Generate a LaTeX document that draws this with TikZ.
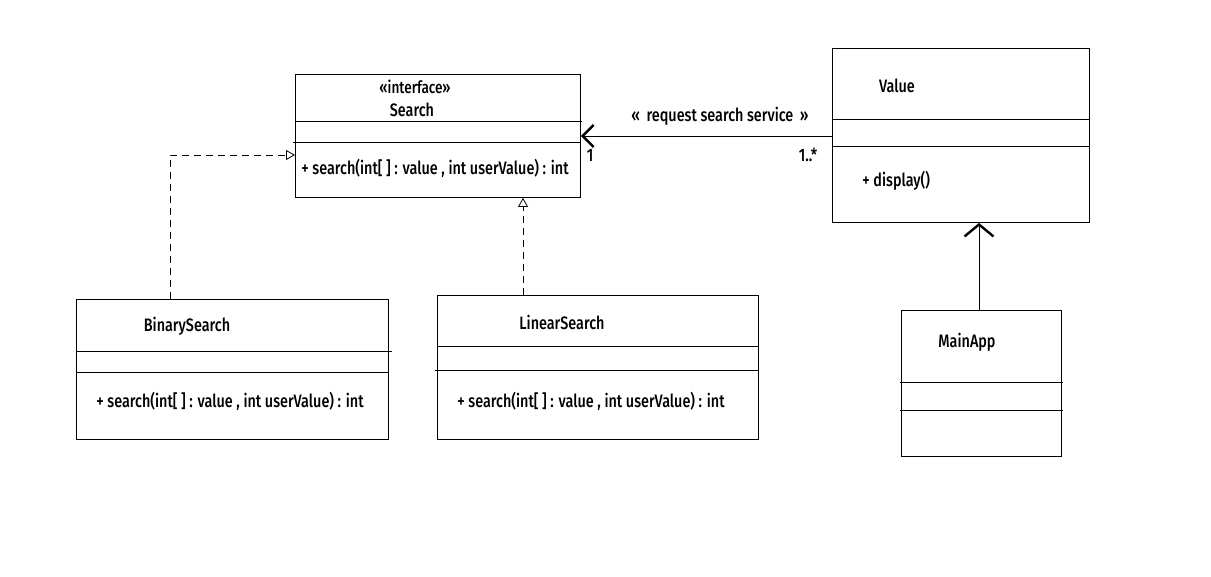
\documentclass[tikz,border=0pt]{standalone}
\usepackage{fontspec}
\setmainfont{Fira Sans}[FakeStretch=0.8, UprightFont=* Medium]
\usetikzlibrary{arrows.meta}
\begin{document}
\begin{tikzpicture}[x=1pt,y=-1pt,
  line width=0.9pt,
  lbl/.style={inner sep=0pt, font=\fontsize{18}{20}\selectfont},
  realize/.style={dashed, line width=0.8pt, dash pattern=on 7pt off 5pt, -{Triangle[open, length=9pt, width=10pt, line width=0.8pt]}},
  assoc/.style={-{Straight Barb[length=11pt, width=22pt, line width=2.4pt]}},
  cls/.style={draw, inner sep=0pt, anchor=north west}
]
\useasboundingbox (0,0) rectangle (1211,577);

% Search interface
\node[cls, minimum width=285pt, minimum height=123pt] (search) at (295,74) {};
\draw (search.west |- 0,121) -- ++(287,0);
\draw (293,142) -- (search.east |- 0,142);
\node[lbl, font=\fontsize{17}{19}\selectfont] (sst) at (415,87) {«interface»};
\node[lbl] (sname) at (412,110) {Search};
\node[lbl, anchor=west] (smeth) at (301,168) {+ search(int[ ] : value , int userValue) : int};

% Value class
\node[cls, minimum width=257pt, minimum height=174pt] (value) at (832,48) {};
\draw (value.west |- 0,119) -- (value.east |- 0,119);
\draw (value.west |- 0,146) -- (value.east |- 0,146);
\node[lbl] (vname) at (897,86) {Value};
\node[lbl, anchor=west] (vmeth) at (862,181) {+ display()};

% BinarySearch class
\node[cls, minimum width=312pt, minimum height=140pt] (binary) at (76,299) {};
\draw (binary.west |- 0,351) -- (392,351);
\draw (binary.west |- 0,372) -- (binary.east |- 0,372);
\node[lbl] (bname) at (187,326) {BinarySearch};
\node[lbl, anchor=west] (bmeth) at (96,401) {+ search(int[ ] : value , int userValue) : int};

% LinearSearch class
\node[cls, minimum width=321pt, minimum height=144pt] (linear) at (437,295) {};
\draw (linear.west |- 0,346) -- (linear.east |- 0,346);
\draw (435,370) -- (linear.east |- 0,370);
\node[lbl] (lname) at (562,322) {LinearSearch};
\node[lbl, anchor=west] (lmeth) at (457,401) {+ search(int[ ] : value , int userValue) : int};

% MainApp class
\node[cls, minimum width=160pt, minimum height=146pt] (mainapp) at (901,310) {};
\draw (900,382) -- (1063,382);
\draw (900,410) -- (1063,410);
\node[lbl] (mname) at (967,342) {MainApp};

% Association Value -> Search
\draw[assoc] (value.west |- 0,136) -- (search.east |- 0,136);
\node[lbl] (alabel) at (720,116) {«\, request search service\, »};
\node[lbl] (m1) at (590,155) {1};
\node[lbl] (m2) at (808,155) {1..*};

% Realizations
\coordinate (bturn) at (170,155);
\draw[realize] (binary.north -| bturn) -- (bturn) -- (search.west |- bturn);
\draw[realize] (linear.north -| 523,0) -- (search.south -| 523,0);

% MainApp -> Value
\draw[-{Straight Barb[length=12pt, width=29pt, line width=2.4pt]}] (mainapp.north -| 979,0) -- (value.south -| 979,0);
\end{tikzpicture}
\end{document}
